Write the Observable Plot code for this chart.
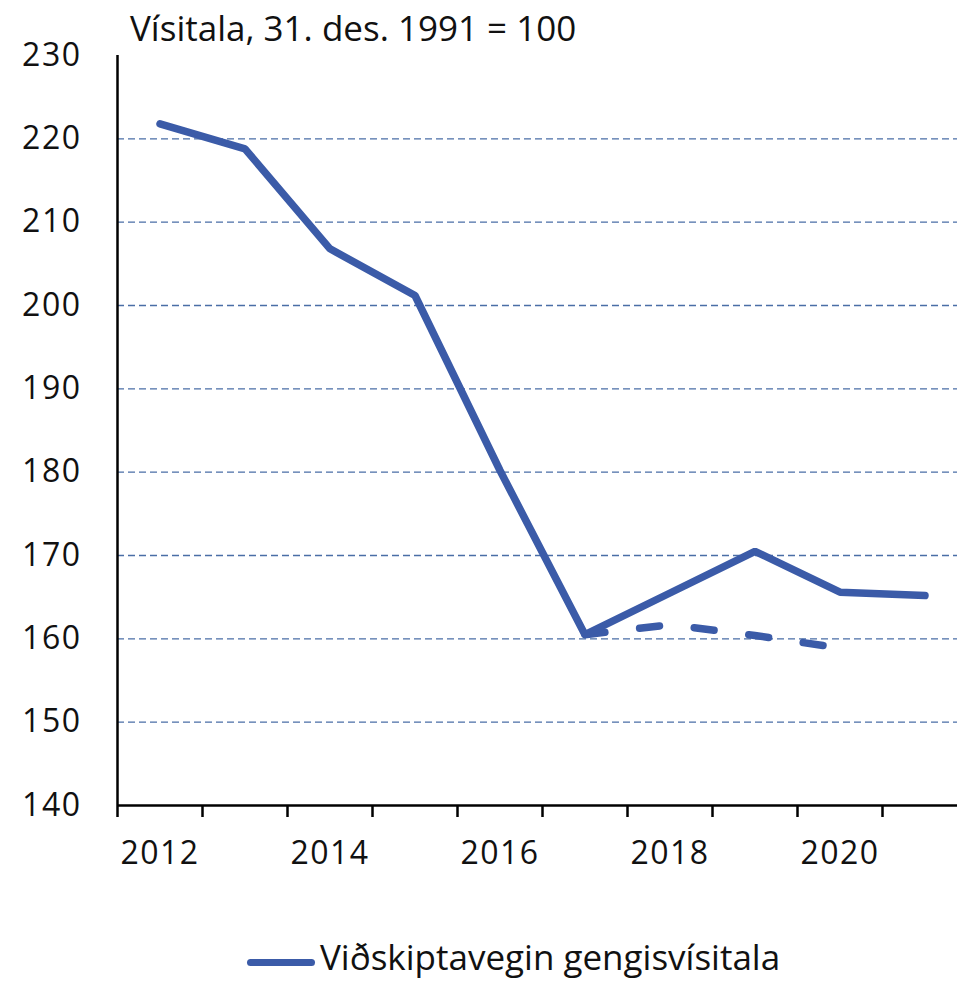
<!DOCTYPE html>
<html>
<head>
<meta charset="utf-8">
<script src="https://cdn.jsdelivr.net/npm/d3@7"></script>
<script src="https://cdn.jsdelivr.net/npm/@observablehq/plot@0.6"></script>
<style>
  html, body { margin: 0; padding: 0; background: white; }
  #wrap { position: relative; width: 957px; height: 983px; font-family: "Open Sans", Lato, sans-serif; color: #111; overflow: hidden; }
  #title { position: absolute; left: 130px; top: 10px; font-size: 35px; line-height: 35px; white-space: nowrap; }
  #legend { position: absolute; left: 247px; top: 939px; font-size: 35px; line-height: 35px; white-space: nowrap; display: flex; align-items: center; }
  #legend .sw { display: inline-block; width: 68px; height: 7px; border-radius: 4px; background: #3b5ba8; margin-right: 5px; margin-top: 12px; }
  #chart { position: absolute; left: 0; top: 0; }
</style>
</head>
<body>
<div id="wrap">
  <div id="chart"></div>
  <div id="title">Vísitala, 31. des. 1991 = 100</div>
  <div id="legend"><span class="sw"></span><span>Viðskiptavegin gengisvísitala</span></div>
</div>
<script>
const years = [2012, 2013, 2014, 2015, 2016, 2017, 2018, 2019, 2020, 2021];
const indexValues = [221.8, 218.8, 206.8, 201.2, 180.2, 160.5, 165.5, 170.5, 165.6, 165.2];
const forecastYears = [2017, 2018, 2019, 2020];
const forecastValues = [160.5, 161.7, 160.4, 158.9];
const yTicks = [140, 150, 160, 170, 180, 190, 200, 210, 220, 230];
const gridValues = [150, 160, 170, 180, 190, 200, 210, 220];
const xLabelYears = [2012, 2014, 2016, 2018, 2020];
const xTickBounds = [2011.5, 2012.5, 2013.5, 2014.5, 2015.5, 2016.5, 2017.5, 2018.5, 2019.5, 2020.5];

const solid = years.map((y, i) => ({year: y, value: indexValues[i]}));
const dashed = forecastYears.map((y, i) => ({year: y, value: forecastValues[i]}));

const lineColor = "#3b5ba8";
const gridColor = "#4a6ea6";

const chart = Plot.plot({
  width: 957,
  height: 900,
  marginLeft: 117,
  marginRight: 0,
  marginTop: 55,
  marginBottom: 95,
  style: {fontFamily: "'Open Sans', Lato, sans-serif", fontSize: "32px", letterSpacing: "1.5px", background: "white", overflow: "visible", color: "#111"},
  x: {type: "linear", domain: [2011.5, 2021.5], range: [117, 967]},
  y: {domain: [140, 230], range: [805, 55]},
  marks: [
    Plot.ruleY(gridValues, {stroke: gridColor, strokeWidth: 1.4, strokeDasharray: "7,4"}),
    Plot.line(dashed, {x: "year", y: "value", stroke: lineColor, strokeWidth: 7.5, strokeDasharray: "20,35", strokeLinecap: "round"}),
    Plot.line(solid, {x: "year", y: "value", stroke: lineColor, strokeWidth: 7.5, strokeLinecap: "round", strokeLinejoin: "miter"}),
    Plot.axisY({ticks: yTicks, tickSize: 0, tickPadding: 36, tickFormat: d => String(d), label: null, fontSize: 32}),
    Plot.axisX({ticks: xTickBounds, tickSize: 12, tickFormat: () => "", label: null, stroke: "black", strokeWidth: 2.5}),
    Plot.axisX({ticks: xLabelYears, tickSize: 0, tickPadding: 36, tickFormat: d => String(d), label: null, fontSize: 32}),
    Plot.ruleX([2011.5], {y1: 140, y2: 230, stroke: "black", strokeWidth: 2.5}),
    Plot.ruleY([140], {stroke: "black", strokeWidth: 2.5})
  ]
});
document.getElementById("chart").appendChild(chart);
</script>
</body>
</html>
